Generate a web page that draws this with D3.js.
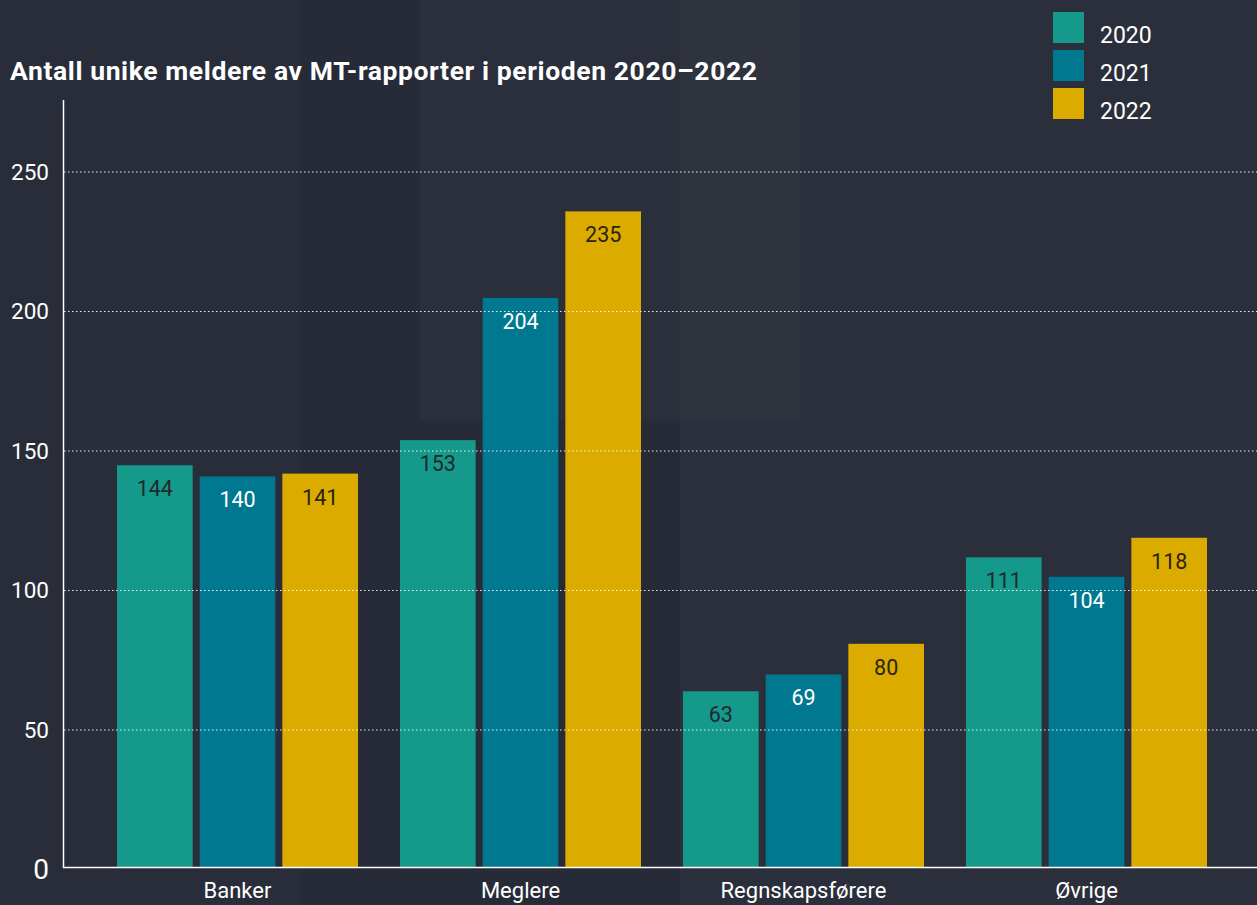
<!DOCTYPE html>
<html>
<head>
<meta charset="utf-8">
<script src="https://cdn.jsdelivr.net/npm/d3@7"></script>
<style>
  html, body { margin: 0; padding: 0; background: #272b38; }
  svg { display: block; font-family: Roboto, "DejaVu Sans", sans-serif; }
</style>
</head>
<body>
<svg id="chart" width="1257" height="905"></svg>
<script>
const categories = ["Banker", "Meglere", "Regnskapsførere", "Øvrige"];
const years = ["2020", "2021", "2022"];
const v2020 = [144, 153, 63, 111];
const v2021 = [140, 204, 69, 104];
const v2022 = [141, 235, 80, 118];
const yTicks = [0, 50, 100, 150, 200, 250];

const colors = ["#14998a", "#00788f", "#dcab00"];
const labelColors = ["#1e2a2c", "#ffffff", "#2a2410"];

const series = [v2020, v2021, v2022];
const rows = categories.map((c, i) => ({
  cat: c,
  vals: years.map((y, j) => ({ year: y, i: j, v: series[j][i] }))
}));

const W = 1257, H = 905;
const svg = d3.select("#chart");

// subtle background panels (stand-in for the faint binary texture)
const bg = svg.append("g").attr("fill", "#ffffff");
bg.append("rect").attr("x", 420).attr("y", 0).attr("width", 380).attr("height", 420).attr("opacity", 0.02);
bg.append("rect").attr("x", 680).attr("y", 0).attr("width", 577).attr("height", 905).attr("opacity", 0.018);
bg.append("rect").attr("x", 0).attr("y", 0).attr("width", 300).attr("height", 905).attr("opacity", 0.01);

const x0 = d3.scaleBand().domain(categories).range([96, 1228]).padding(0);
const x1 = d3.scaleBand().domain(years).range([-120.5, 120.5]).paddingInner(0.085);
const y = d3.scaleLinear().domain([0, 250]).range([867, 169.5]);

// bars
const groups = svg.append("g").selectAll("g").data(rows).join("g")
  .attr("transform", d => `translate(${x0(d.cat) + x0.bandwidth() / 2},0)`);

groups.selectAll("rect").data(d => d.vals).join("rect")
  .attr("x", d => x1(d.year))
  .attr("width", x1.bandwidth())
  .attr("y", d => y(d.v))
  .attr("height", d => y(0) - y(d.v))
  .attr("fill", d => colors[d.i]);

// dotted gridlines above bars
svg.append("g").selectAll("line").data(yTicks.filter(t => t > 0)).join("line")
  .attr("x1", 64).attr("x2", W)
  .attr("y1", d => y(d) + 2.5).attr("y2", d => y(d) + 2.5)
  .attr("stroke", "#ffffff").attr("stroke-opacity", 0.9)
  .attr("stroke-width", 1.2).attr("stroke-dasharray", "1.5,2.5");

// value labels
groups.selectAll("text.val").data(d => d.vals).join("text")
  .attr("class", "val")
  .attr("x", d => x1(d.year) + x1.bandwidth() / 2)
  .attr("y", d => y(d.v) + 31)
  .attr("text-anchor", "middle")
  .attr("font-size", 21.5)
  .attr("fill", d => labelColors[d.i])
  .text(d => d.v);

// axes lines
svg.append("line").attr("x1", 63.5).attr("x2", 63.5).attr("y1", 100).attr("y2", 868)
  .attr("stroke", "#ffffff").attr("stroke-width", 1.5);
svg.append("line").attr("x1", 63).attr("x2", W).attr("y1", 867.5).attr("y2", 867.5)
  .attr("stroke", "#ffffff").attr("stroke-width", 1.5);

// y tick labels
svg.append("g").selectAll("text").data(yTicks).join("text")
  .attr("x", 49)
  .attr("y", d => d === 0 ? y(d) + 12 : y(d) + 10)
  .attr("text-anchor", "end")
  .attr("font-size", d => d === 0 ? 28 : 22.5)
  .attr("fill", "#ffffff")
  .text(d => d);

// x labels
svg.append("g").selectAll("text").data(categories).join("text")
  .attr("x", d => x0(d) + x0.bandwidth() / 2)
  .attr("y", 898)
  .attr("text-anchor", "middle")
  .attr("font-size", 22)
  .attr("fill", "#ffffff")
  .text(d => d);

// title
svg.append("text").attr("x", 10).attr("y", 80)
  .attr("font-size", 26.5).attr("font-weight", 700).attr("fill", "#ffffff")
  .attr("letter-spacing", 0.6)
  .text("Antall unike meldere av MT-rapporter i perioden 2020–2022");

// legend
const legend = svg.append("g").selectAll("g").data(years).join("g")
  .attr("transform", (d, i) => `translate(1053,${12 + i * 38})`);
legend.append("rect").attr("width", 31).attr("height", 31)
  .attr("fill", (d, i) => colors[i]);
legend.append("text").attr("x", 47).attr("y", 31)
  .attr("font-size", 23).attr("fill", "#ffffff").text(d => d);
</script>
</body>
</html>
